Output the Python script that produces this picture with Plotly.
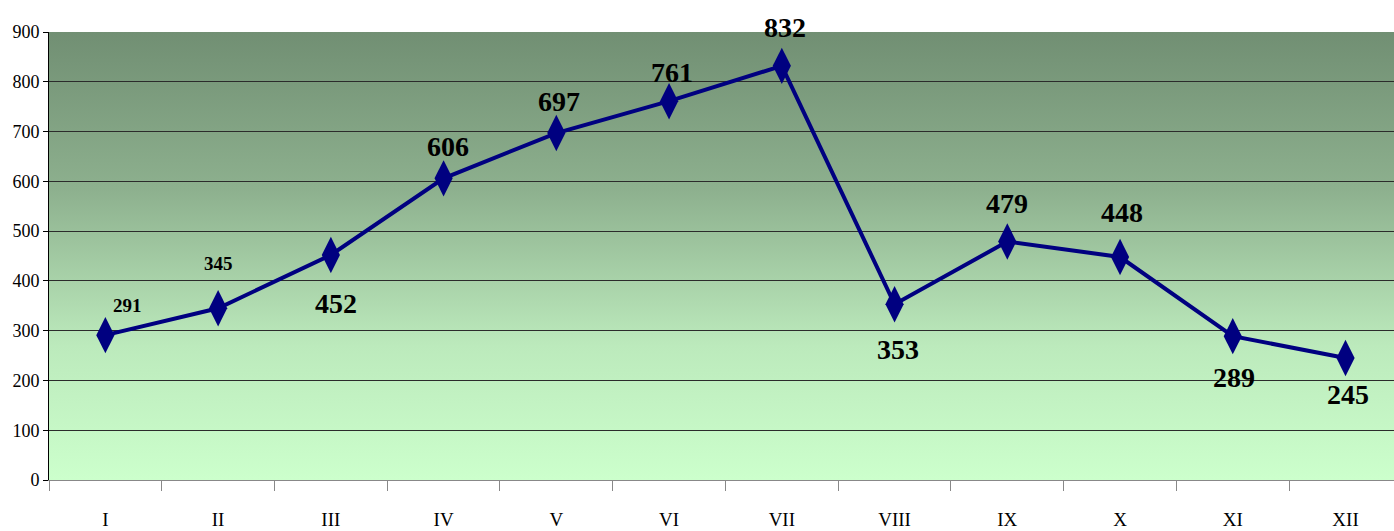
import base64

import plotly.graph_objects as go

months = ["I", "II", "III", "IV", "V", "VI", "VII", "VIII", "IX", "X", "XI", "XII"]
values = [291, 345, 452, 606, 697, 761, 832, 353, 479, 448, 289, 245]
y_ticks = [0, 100, 200, 300, 400, 500, 600, 700, 800, 900]

# label placement (pixel offsets from each point) and font size, by month
label_dx = [22, 0, 5, 4, 3, 3, 3, 3, 0, 2, 1, 2]
label_dy = [30, 45, -48, 32, 32, 29, 38, -45, 38, 45, -41, -36]
label_size = [19, 19, 28, 28, 28, 28, 28, 28, 28, 28, 28, 28]

LINE_COLOR = "#000080"
FONT = "Liberation Serif, Times New Roman, serif"

# vertical gradient for the plot area, drawn as an svg image under the grid
svg = (
    "<svg xmlns='http://www.w3.org/2000/svg' width='100' height='100' preserveAspectRatio='none'>"
    "<defs><linearGradient id='g' x1='0' y1='0' x2='0' y2='1'>"
    "<stop offset='0' stop-color='#718F73'/>"
    "<stop offset='0.35' stop-color='#8DB08E'/>"
    "<stop offset='0.7' stop-color='#BCEABC'/>"
    "<stop offset='1' stop-color='#CCFFCC'/>"
    "</linearGradient></defs>"
    "<rect width='100' height='100' fill='url(#g)'/></svg>"
)
bg_src = "data:image/svg+xml;base64," + base64.b64encode(svg.encode()).decode()

x_pos = list(range(len(months)))

fig = go.Figure(
    go.Scatter(
        x=x_pos,
        y=values,
        mode="lines+markers",
        line=dict(color=LINE_COLOR, width=4),
        marker=dict(symbol="diamond-tall", size=26, color=LINE_COLOR),
        cliponaxis=False,
        hoverinfo="x+y",
    )
)

for i, v in enumerate(values):
    fig.add_annotation(
        x=x_pos[i],
        y=v,
        text=f"<b>{v}</b>",
        showarrow=False,
        xshift=label_dx[i],
        yshift=label_dy[i],
        font=dict(family=FONT, size=label_size[i], color="black"),
    )

fig.add_layout_image(
    source=bg_src,
    xref="paper",
    yref="paper",
    x=0,
    y=1,
    sizex=1,
    sizey=1,
    sizing="stretch",
    xanchor="left",
    yanchor="top",
    layer="below",
)

fig.update_layout(
    width=1394,
    height=531,
    margin=dict(l=49, r=0, t=32, b=51),
    paper_bgcolor="white",
    plot_bgcolor="#CCFFCC",
    showlegend=False,
    font=dict(family=FONT, color="black"),
    xaxis=dict(
        range=[-0.5, 11.43],
        automargin=False,
        tickmode="array",
        tickvals=x_pos,
        ticktext=months,
        ticks="",
        ticklabelstandoff=22,
        tickfont=dict(size=19),
        showgrid=False,
        zeroline=False,
        showline=True,
        linecolor="#888888",
        linewidth=1,
        minor=dict(
            tick0=0.5,
            dtick=1,
            ticks="outside",
            ticklen=10,
            tickcolor="#888888",
            showgrid=False,
        ),
    ),
    yaxis=dict(
        range=[0, 900],
        automargin=False,
        tickvals=y_ticks,
        ticks="outside",
        ticklen=5,
        tickcolor="black",
        tickfont=dict(size=18),
        showgrid=True,
        gridcolor="#2b2b2b",
        gridwidth=1,
        zeroline=False,
        showline=True,
        linecolor="black",
        linewidth=1,
    ),
)

# drop the page's default body margin so the figure sits at the window corner
fig.write_html(
    "out.html",
    config={"displayModeBar": False},
    post_script="document.body.style.margin = '0';",
)
